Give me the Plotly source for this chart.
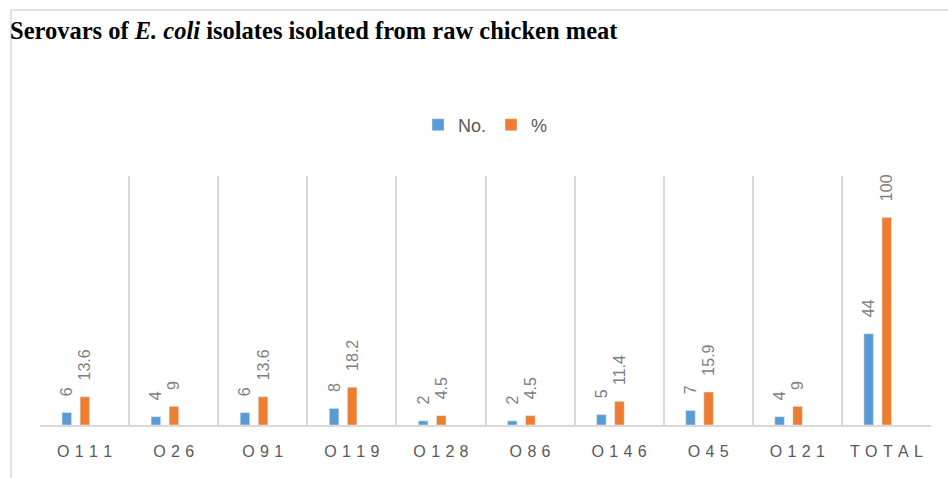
import plotly.graph_objects as go

categories = ["O111", "O26", "O91", "O119", "O128", "O86", "O146", "O45", "O121", "TOTAL"]
no_values = [6, 4, 6, 8, 2, 2, 5, 7, 4, 44]
pct_values = [13.6, 9, 13.6, 18.2, 4.5, 4.5, 11.4, 15.9, 9, 100]
pct_labels = ["13.6", "9", "13.6", "18.2", "4.5", "4.5", "11.4", "15.9", "9", "100"]

W, H = 948, 478
ML, MR, MT, MB = 40, 17, 176, 53
PW, PH = W - ML - MR, H - MT - MB

SP = "\u2004"
ticktext = [SP.join(list(c)) for c in categories]

BLUE = "#5B9BD5"
ORANGE = "#ED7D31"
LBL = "#7F7F7F"
PAD = "\u00a0\u00a0\u00a0"

fig = go.Figure()
fig.add_trace(go.Bar(
    x=categories, y=no_values, name="No.", marker_color=BLUE,
    width=0.107, offset=-0.253,
    text=[PAD + str(v) for v in no_values], textposition="outside", textangle=-90,
    textfont=dict(color=LBL, size=16, family="Liberation Sans"),
    constraintext="none", cliponaxis=False,
))
fig.add_trace(go.Bar(
    x=categories, y=pct_values, name="%", marker_color=ORANGE,
    width=0.107, offset=-0.05,
    text=[PAD + s for s in pct_labels], textposition="outside", textangle=-90,
    textfont=dict(color=LBL, size=16, family="Liberation Sans"),
    constraintext="none", cliponaxis=False,
))

top_y = (MT - 10) / PH + 1
left_x = (11 - ML) / PW

fig.update_layout(
    width=W, height=H,
    margin=dict(l=ML, r=MR, t=MT, b=MB, pad=0),
    paper_bgcolor="white", plot_bgcolor="white",
    barmode="group",
    title=dict(
        text="Serovars of <i>E. coli</i> isolates isolated from raw chicken meat",
        font=dict(family="Liberation Serif", size=24.5, color="black", weight="bold"),
        x=10 / W, xanchor="left", xref="container",
        y=1 - 30 / H, yanchor="middle", yref="container",
    ),
    legend=dict(
        orientation="h", x=0.5, xanchor="center", y=1 + (MT - 125) / PH, yanchor="middle",
        font=dict(family="Liberation Sans", size=18, color="#595959"),
        traceorder="normal",
    ),
    showlegend=True,
    xaxis=dict(
        type="category", range=[-0.5, 9.5],
        tickson="boundaries", showgrid=True, gridcolor="#D9D9D9", gridwidth=1.5,
        showline=True, linecolor="#D9D9D9", linewidth=2,
        ticks="", tickvals=categories, ticktext=ticktext,
        tickfont=dict(family="Liberation Sans", size=16, color="#595959"),
        ticklabelstandoff=11,
        zeroline=False,
    ),
    yaxis=dict(range=[0, 120], visible=False, showgrid=False, zeroline=False),
    shapes=[
        dict(type="line", xref="paper", yref="paper",
             x0=left_x, x1=left_x, y0=top_y, y1=-(MB + 5) / PH,
             line=dict(color="#D9D9D9", width=1.5)),
        dict(type="line", xref="paper", yref="paper",
             x0=left_x, x1=(W + 5 - ML) / PW, y0=top_y, y1=top_y,
             line=dict(color="#D9D9D9", width=1.5)),
    ],
)

fig.write_html("out.html")
